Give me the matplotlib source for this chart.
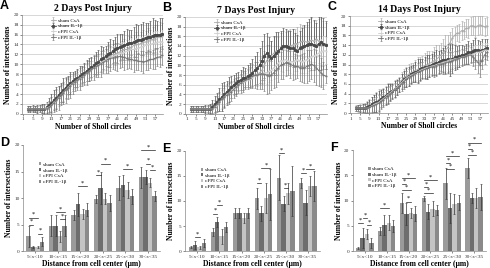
import numpy as np
import matplotlib
matplotlib.use("Agg")
import matplotlib.pyplot as plt

plt.rcParams['font.family'] = ['Liberation Serif', 'DejaVu Serif']

groups = ['sham CsA', 'sham IL-1\u03b2', 'cFPI CsA', 'cFPI IL-1\u03b2']
line_colors = ['#ababab', '#4a4a4a', '#cfcfcf', '#767676']
bar_colors = ['#9a9a9a', '#6e6e6e', '#c4c4c4', '#8a8a8a']

# Sholl circles 3..60
first_circle = 3
xticks_sholl = list(range(1, 58, 4))

# ---- panel A : 2 days ----
a_sham_csa = [1, 1, 1, 1, 1, 1, 1, 1, 1.2, 1.5,
              2, 2.5, 3, 3.5, 4, 4.5, 5, 5.5, 6, 6.3,
              6.7, 7, 7.3, 7.6, 8, 8.4, 8.8, 9, 9.4, 9.8,
              10, 10.4, 10.8, 11, 11.3, 11.6, 12, 12, 12.3, 12.5,
              12.8, 13, 13, 13.3, 13.5, 13.8, 14, 14, 14.2, 14.5,
              14.5, 14.8, 15, 15, 15.2, 15.5, 15.5, 15.8]
a_sham_il = [1, 1, 1, 1, 1, 1, 1, 1, 1.3, 1.8,
             2.2, 2.8, 3.2, 3.8, 4.3, 4.8, 5.3, 5.8, 6.2, 6.6,
             7, 7.3, 7.6, 8, 8.3, 8.7, 9, 9.4, 9.8, 10.2,
             10.5, 11, 11.3, 11.6, 12, 12.3, 12.6, 13, 13.2, 13.5,
             13.6, 13.8, 14, 14.2, 14.4, 14.5, 14.8, 15, 15, 15.2,
             15.4, 15.5, 15.6, 15.8, 16, 16, 16, 16.2]
a_fpi_csa = [1, 1, 1, 1, 1, 1, 1, 1, 1.2, 1.4,
             1.8, 2.3, 2.8, 3.3, 3.8, 4.3, 4.8, 5.3, 5.8, 6.2,
             6.5, 6.9, 7.2, 7.5, 7.8, 8.2, 8.6, 9, 9.2, 9.6,
             9.9, 10.2, 10.6, 10.9, 11.2, 11.4, 11.6, 11.8, 12, 12.2,
             12.3, 12.5, 12.6, 12.8, 13, 13, 13.2, 13.3, 13.5, 13.6,
             13.8, 14, 14, 14.2, 14.3, 14.5, 14.5, 14.6]
a_fpi_il = [1, 1, 1, 1, 1, 1, 1, 1, 1, 1.3,
            1.8, 2.2, 2.8, 3.2, 3.8, 4.2, 4.8, 5.2, 5.7, 6.1,
            6.5, 6.8, 7.1, 7.5, 7.9, 8.3, 8.6, 9, 9.3, 9.6,
            9.8, 10.1, 10.4, 10.7, 11, 11.2, 11.3, 11.5, 11.5, 11.6,
            11.5, 11.4, 11.2, 11, 11, 10.8, 10.8, 10.6, 10.6, 10.5,
            10.6, 10.8, 11, 11, 11.2, 11.4, 11.5, 11.8]
ea_sham_csa = [0.5, 0.5, 0.5, 0.5, 0.5, 0.5, 0.6, 0.8, 1.0, 1.2,
               1.5, 1.5, 1.8, 2.0, 1.6, 1.8, 2.0, 1.5, 1.6, 1.3,
               1.2, 1.5, 1.4, 1.2, 1.5, 1.8, 1.5, 1.6, 1.8, 2.0,
               1.6, 1.8, 2.0, 2.1, 1.6, 1.8, 2.0, 2.2, 2.0, 1.8,
               2.0, 2.2, 2.0, 2.5, 2.1, 2.2, 2.5, 2.0, 2.3, 2.5,
               2.2, 2.5, 2.0, 2.6, 2.8, 2.5, 3.0, 2.6]
ea_sham_il = [0.6, 0.6, 0.7, 0.6, 0.8, 0.7, 0.9, 1.0, 1.2, 1.5,
              1.8, 2.0, 2.2, 1.8, 2.0, 2.4, 2.0, 1.8, 2.2, 1.9,
              1.6, 1.8, 2.0, 1.7, 1.9, 2.1, 2.3, 2.0, 1.8, 2.2,
              2.4, 2.6, 2.2, 2.0, 2.5, 2.8, 2.4, 2.6, 3.0, 2.7,
              2.5, 2.9, 3.2, 2.8, 2.6, 3.0, 3.3, 2.9, 3.1, 3.4,
              3.0, 2.8, 3.2, 3.5, 3.0, 2.8, 3.4, 3.2]
ea_fpi_csa = [0.4, 0.4, 0.5, 0.4, 0.5, 0.6, 0.6, 0.7, 0.9, 1.0,
              1.2, 1.4, 1.6, 1.5, 1.7, 1.6, 1.8, 1.5, 1.4, 1.6,
              1.3, 1.4, 1.6, 1.5, 1.3, 1.6, 1.8, 1.7, 1.5, 1.8,
              1.9, 1.7, 2.0, 1.8, 1.6, 1.9, 2.1, 1.9, 1.7, 2.0,
              2.2, 2.0, 1.8, 2.1, 2.3, 2.0, 2.2, 2.4, 2.1, 1.9,
              2.2, 2.4, 2.0, 2.3, 2.5, 2.2, 2.0, 2.4]
ea_fpi_il = [0.5, 0.5, 0.5, 0.6, 0.6, 0.7, 0.8, 0.9, 1.0, 1.3,
             1.6, 1.8, 2.2, 2.5, 2.0, 2.3, 2.6, 2.2, 2.4, 2.0,
             1.8, 2.0, 2.2, 1.9, 2.1, 2.4, 2.0, 2.2, 2.5, 2.1,
             2.3, 2.6, 2.2, 2.4, 2.8, 2.5, 2.2, 2.6, 2.9, 2.4,
             2.1, 2.5, 2.2, 1.8, 2.0, 2.3, 1.9, 1.7, 2.0, 2.2,
             1.8, 2.0, 1.7, 1.9, 2.1, 1.8, 2.0, 1.9]

# ---- panel B : 7 days ----
b_sham_csa = [1, 1, 1, 1, 1, 1, 1, 1, 1, 1.2,
              1.5, 2, 2.5, 3, 3.5, 4, 4.5, 5, 5.5, 5.8,
              6.2, 6.5, 6.8, 7, 7.3, 7.5, 7.8, 8, 8.2, 8.5,
              9, 10, 11, 11.5, 12, 12.5, 13, 13, 13.5, 13.5,
              13.8, 14, 14, 14.2, 14.5, 14.5, 14.8, 15, 15, 14.8,
              15, 15.2, 15, 15.5, 15, 14.8, 14.5, 14.5]
b_sham_il = [1, 1, 1, 1, 1, 1, 1, 1, 1, 1.5,
             2, 2.5, 3, 3.5, 4, 4.5, 5, 5.5, 6, 6.3,
             6.8, 7, 7.3, 7.5, 7.8, 8, 8.5, 9, 9.5, 10,
             11, 12, 12.5, 12, 11.5, 12, 12.5, 13, 13.5, 14,
             14, 13.8, 13.5, 13.5, 13.2, 13, 13.5, 13.8, 14, 14.2,
             14.5, 14.5, 14.2, 14, 14.5, 14.8, 14.5, 14.2]
b_fpi_csa = [1, 1, 1, 1, 1, 1, 1, 1, 1, 1,
             1.2, 1.8, 2.5, 3, 3.5, 4, 4.3, 4.8, 5.2, 5.6,
             6, 6.3, 6.6, 6.8, 7, 7.2, 7.5, 7.8, 8, 8.2,
             8.3, 8.5, 8.5, 8.8, 9, 9.5, 10, 10.5, 11, 11,
             11.2, 11, 10.8, 10.8, 11, 11.2, 11, 10.8, 11, 11.2,
             11.5, 11.8, 12, 12.2, 12.5, 12.8, 13, 13]
b_fpi_il = [1, 1, 1, 1, 1, 1, 1, 1, 1, 1,
            1.5, 2, 2.5, 3, 3.5, 3.8, 4.2, 4.6, 5, 5.5,
            6, 6.3, 6.7, 7, 7.2, 7.5, 7.8, 8, 8, 8.2,
            8.3, 8.2, 8, 7.8, 8, 8.5, 9, 9.5, 10, 10.2,
            10.5, 10.5, 10.2, 10, 9.8, 9.8, 9.5, 9.5, 9.5, 9.8,
            10, 10.2, 10, 9.5, 9, 8.5, 8, 7.8]
eb_sham_csa = [0.6, 0.6, 0.6, 0.6, 0.6, 0.6, 0.6, 0.7, 0.8, 1.0,
               1.2, 1.5, 1.8, 2.0, 1.8, 2.2, 2.0, 1.8, 1.6, 1.5,
               1.4, 1.6, 1.8, 1.5, 1.7, 1.9, 2.2, 2.0, 2.4, 2.6,
               2.8, 3.0, 3.2, 2.8, 3.0, 3.4, 3.0, 2.8, 3.2, 3.5,
               3.0, 3.3, 3.6, 3.2, 3.0, 3.5, 3.8, 3.4, 3.2, 3.6,
               4.0, 4.5, 4.2, 3.8, 4.5, 5.0, 4.6, 4.2]
eb_sham_il = [0.7, 0.7, 0.7, 0.7, 0.7, 0.7, 0.8, 0.9, 1.0, 1.3,
              1.6, 1.9, 2.3, 2.8, 2.5, 2.2, 2.6, 2.3, 2.0, 2.2,
              1.9, 2.1, 2.4, 2.0, 2.2, 2.5, 2.8, 3.0, 3.3, 3.6,
              4.0, 4.5, 4.2, 3.8, 3.5, 4.0, 4.4, 3.8, 3.5, 3.8,
              3.4, 3.2, 3.6, 3.9, 3.5, 3.2, 3.6, 4.0, 4.4, 4.8,
              5.0, 5.5, 5.2, 4.8, 5.4, 5.8, 5.2, 5.0]
eb_fpi_csa = [0.5, 0.5, 0.5, 0.5, 0.5, 0.5, 0.5, 0.6, 0.7, 0.9,
              1.1, 1.3, 1.5, 1.7, 1.6, 1.8, 1.6, 1.5, 1.4, 1.3,
              1.2, 1.4, 1.6, 1.4, 1.5, 1.7, 1.9, 1.8, 2.0, 2.2,
              2.0, 2.2, 2.4, 2.2, 2.0, 2.3, 2.5, 2.3, 2.1, 2.4,
              2.2, 2.0, 2.3, 2.5, 2.2, 2.4, 2.6, 2.3, 2.5, 2.8,
              2.6, 2.4, 2.7, 3.0, 2.8, 2.6, 3.0, 2.8]
eb_fpi_il = [0.6, 0.6, 0.6, 0.6, 0.6, 0.6, 0.6, 0.7, 0.8, 1.0,
             1.3, 1.6, 2.0, 2.4, 2.2, 1.9, 2.2, 2.0, 1.8, 1.9,
             1.7, 1.9, 2.1, 1.8, 2.0, 2.2, 2.4, 2.6, 2.8, 3.0,
             3.2, 3.5, 3.8, 3.4, 3.0, 3.2, 3.5, 3.0, 2.8, 3.0,
             2.7, 2.5, 2.8, 3.0, 2.6, 2.4, 2.7, 2.9, 3.1, 3.4,
             3.2, 3.0, 3.4, 3.6, 3.2, 3.0, 2.8, 1.5]

# ---- panel C : 14 days ----
c_sham_csa = [1, 1, 1, 1, 1, 1.3, 1.5, 1.8, 2, 2.3,
              2.8, 3, 3.3, 3.6, 4, 4.3, 4.6, 5, 5.5, 6,
              6.8, 7.3, 7.6, 8, 8.3, 8.5, 8.8, 9, 9.2, 9.5,
              9.8, 10, 10.2, 10.5, 10.8, 11, 11.5, 12, 12.5, 13,
              13.5, 14.5, 15.5, 16, 16.5, 16.5, 17, 17, 17.5, 17.5,
              18, 18, 17.8, 18, 18.2, 18, 17.8, 18]
c_sham_il = [1, 1, 1, 1, 1, 1.2, 1.5, 1.8, 2, 2.2,
             2.5, 3, 3.3, 3.6, 4, 4.3, 4.6, 5, 5.3, 5.8,
             6.5, 7, 7.3, 7.6, 8, 8.2, 8.5, 8.7, 9, 9.2,
             9.4, 9.5, 9.7, 10, 10.2, 10.4, 10.5, 10.8, 11, 11,
             11.2, 11, 11.2, 11.5, 11.5, 11.8, 12, 12, 12.2, 12.5,
             12.5, 12.8, 13, 13, 12.8, 13, 13.2, 13.5]
c_fpi_csa = [1, 1, 1, 1, 1, 1, 1.2, 1.5, 1.8, 2,
             2.2, 2.6, 3, 3.4, 3.8, 4.2, 4.6, 5, 5.4, 5.8,
             6.3, 6.8, 7.2, 7.5, 7.8, 8, 8.3, 8.5, 8.8, 9,
             9.2, 9.4, 9.5, 9.7, 9.8, 10, 10.2, 10.3, 10.5, 10.6,
             10.8, 11, 11, 11.2, 11.2, 11.4, 11.5, 11.6, 11.8, 12,
             12, 12.2, 12.3, 12.5, 12.6, 12.8, 13, 13]
c_fpi_il = [1, 1, 1, 1, 1, 1, 1.2, 1.4, 1.6, 1.8,
            2, 2.4, 2.8, 3.2, 3.6, 4, 4.4, 4.8, 5.2, 5.6,
            6, 6.5, 7, 7.3, 7.6, 7.9, 8.2, 8.4, 8.6, 8.8,
            9, 9.2, 9.4, 9.5, 9.6, 9.8, 10, 10.1, 10.2, 10.4,
            10.5, 10.6, 10.8, 11, 11.2, 11.3, 11.5, 11.5, 11.8, 12,
            12, 11.5, 11, 10.5, 10, 11, 12, 12.5]
ec_sham_csa = [0.6, 0.7, 0.8, 0.9, 1.0, 1.2, 1.4, 1.6, 1.8, 2.0,
               2.2, 2.0, 1.8, 2.0, 2.2, 1.9, 1.7, 1.8, 1.6, 1.5,
               1.6, 1.8, 2.0, 2.2, 2.0, 1.8, 2.2, 2.6, 2.4, 2.2,
               2.5, 2.8, 2.6, 2.4, 2.8, 3.0, 2.6, 2.4, 2.8, 3.0,
               2.5, 2.2, 2.0, 1.8, 1.6, 1.8, 2.0, 1.7, 1.9, 2.0,
               1.8, 2.0, 2.2, 2.0, 1.8, 2.0, 1.9, 1.8]
ec_sham_il = [0.5, 0.6, 0.7, 0.8, 0.9, 1.1, 1.3, 1.5, 1.7, 1.9,
              2.0, 1.8, 1.6, 1.8, 2.0, 1.7, 1.5, 1.6, 1.5, 1.4,
              1.5, 1.7, 1.9, 2.0, 1.8, 1.7, 2.0, 2.4, 2.2, 2.0,
              2.2, 2.5, 2.3, 2.1, 2.4, 2.6, 2.3, 2.2, 2.5, 2.8,
              3.0, 3.4, 3.0, 2.6, 2.4, 2.2, 2.0, 1.9, 2.1, 2.3,
              2.0, 2.2, 2.4, 2.1, 2.0, 2.3, 2.0, 1.8]
ec_fpi_csa = [0.5, 0.5, 0.6, 0.6, 0.7, 0.8, 1.0, 1.2, 1.3, 1.4,
              1.5, 1.4, 1.3, 1.4, 1.5, 1.3, 1.2, 1.3, 1.2, 1.1,
              1.2, 1.3, 1.4, 1.5, 1.4, 1.3, 1.5, 1.7, 1.6, 1.5,
              1.6, 1.8, 1.7, 1.6, 1.8, 1.9, 1.7, 1.6, 1.8, 2.0,
              1.8, 1.7, 1.6, 1.5, 1.4, 1.5, 1.6, 1.4, 1.5, 1.6,
              1.5, 1.6, 1.7, 1.6, 1.5, 1.6, 1.5, 1.4]
ec_fpi_il = [0.5, 0.6, 0.6, 0.7, 0.8, 0.9, 1.1, 1.3, 1.4, 1.6,
             1.7, 1.6, 1.5, 1.6, 1.7, 1.5, 1.4, 1.5, 1.4, 1.3,
             1.4, 1.5, 1.6, 1.7, 1.6, 1.5, 1.8, 2.0, 1.9, 1.8,
             1.9, 2.1, 2.0, 1.9, 2.1, 2.2, 2.0, 1.9, 2.1, 2.3,
             2.0, 1.9, 1.8, 1.7, 1.6, 1.7, 1.8, 1.6, 1.7, 1.8,
             1.7, 1.8, 2.0, 2.2, 2.5, 2.0, 1.8, 1.6]

# ---- bar panels D, E, F ----
dist_labels = ['5<x<10', '10<x<15', '15<x<20', '20<x<25', '25<x<30', '30<x<35']

d_means = [[2.8, 4.8, 6.8, 9.8, 11.9, 13.9],    # sham CsA
           [0.8, 4.8, 8.8, 11.9, 12.4, 13.9],   # sham IL-1b
           [0.8, 2.8, 7.0, 9.9, 11.6, 12.9],    # cFPI CsA
           [1.8, 4.8, 7.8, 9.0, 10.3, 10.4]]    # cFPI IL-1b
d_err = [[2.0, 2.0, 1.0, 0.8, 2.3, 2.0],
         [0.2, 2.0, 2.2, 3.0, 2.0, 1.3],
         [0.2, 1.0, 1.0, 1.0, 1.5, 0.8],
         [0.8, 2.0, 1.2, 1.5, 1.5, 1.0]]
d_sig = [(0, 0, 2, 6.3), (0, 0, 1, 5.0), (0, 2, 3, 3.3), (1, 1, 3, 7.3), (1, 2, 3, 6.0),
         (2, 1, 3, 12.2), (3, 1, 3, 16.5), (3, 0, 1, 14.3), (4, 1, 3, 15.5),
         (5, 0, 3, 19.0), (5, 1, 2, 16.5), (5, 2, 3, 15.2)]

e_means = [[0.8, 3.8, 7.6, 10.5, 14.6, 13.6],
           [1.3, 5.8, 7.6, 7.6, 9.5, 9.7],
           [0.8, 3.0, 6.6, 10.6, 11.5, 13.0],
           [1.6, 4.8, 7.6, 11.3, 12.0, 13.0]]
e_err = [[0.2, 0.8, 1.0, 2.0, 4.5, 1.0],
         [0.8, 1.0, 1.0, 1.5, 1.5, 2.5],
         [0.3, 1.5, 1.0, 3.0, 2.0, 2.0],
         [0.8, 1.0, 1.0, 5.0, 5.0, 3.0]]
e_sig = [(0, 1, 2, 2.8), (1, 0, 1, 7.5), (1, 1, 2, 9.2), (3, 0, 1, 13.5), (3, 1, 3, 16.5),
         (4, 0, 1, 19.5), (4, 1, 2, 12.5), (5, 0, 1, 15.5), (5, 1, 3, 16.3)]

f_means = [[0.7, 3.9, 9.5, 10.5, 13.4, 16.5],
           [2.6, 5.2, 7.4, 7.8, 8.6, 10.5],
           [3.4, 5.6, 7.6, 8.4, 9.4, 10.5],
           [1.6, 4.9, 7.4, 8.2, 9.6, 10.7]]
f_err = [[0.2, 0.8, 2.0, 0.5, 3.0, 2.0],
         [2.0, 2.0, 2.2, 1.5, 3.0, 1.0],
         [1.0, 1.5, 1.0, 1.5, 2.0, 2.0],
         [1.0, 1.2, 1.5, 1.0, 1.5, 2.5]]
f_sig = [(0, 0, 1, 5.6), (0, 1, 2, 6.6), (0, 2, 3, 5.2), (1, 0, 2, 8.5),
         (2, 0, 3, 14.5), (2, 0, 1, 13.3), (2, 0, 2, 12.0), (2, 1, 2, 9.8),
         (3, 0, 3, 14.0), (3, 0, 1, 12.7), (3, 0, 2, 11.5),
         (4, 0, 3, 18.8), (4, 0, 1, 17.5), (4, 0, 2, 16.3),
         (5, 0, 3, 21.5), (5, 0, 1, 20.2), (5, 0, 2, 19.0)]

fig = plt.figure(figsize=(4.9, 2.68), dpi=100)
fs_tick = 3.8
fs_lab = 5.5


def sholl_panel(rect, series, errors, title, letter):
    ax = fig.add_axes(rect)
    for k in range(4):
        y = np.array(series[k])
        x = np.arange(first_circle, first_circle + len(y))
        ax.errorbar(x, y, yerr=errors[k], color=line_colors[k], lw=0.6, elinewidth=0.5,
                    capsize=0.8, capthick=0.4, marker='s' if k == 1 else '_', ms=1.2,
                    label=groups[k])
    ax.set_xlim(0.5, 60.5)
    ax.set_ylim(0, 20)
    ax.set_yticks(range(0, 21, 2))
    ax.set_xticks(xticks_sholl)
    ax.yaxis.grid(True, color='#c8c8c8', lw=0.5)
    ax.set_axisbelow(True)
    for s in ['top', 'right']:
        ax.spines[s].set_visible(False)
    for s in ['left', 'bottom']:
        ax.spines[s].set_color('#888888')
        ax.spines[s].set_linewidth(0.5)
    ax.tick_params(labelsize=fs_tick, length=1.5, width=0.4, pad=1, colors='#333333')
    ax.set_xlabel('Number of Sholl circles', fontsize=fs_lab, fontweight='bold', labelpad=1)
    ax.set_ylabel('Number of intersections', fontsize=fs_lab, fontweight='bold', labelpad=1)
    ax.set_title(title, fontsize=7, fontweight='bold', pad=3)
    leg = ax.legend(loc='upper left', bbox_to_anchor=(0.18, 1.0), fontsize=3.8, frameon=False,
                    handlelength=1.0, handletextpad=0.4, labelspacing=0.2, borderaxespad=0.2)
    ax.text(-0.16, 1.09, letter, transform=ax.transAxes, fontsize=9, fontweight='bold',
            family=['Liberation Sans', 'DejaVu Sans'], va='center')
    return ax


def bar_panel(rect, means, errs, sigs, letter):
    ax = fig.add_axes(rect)
    n = len(dist_labels)
    w = 0.2
    pos = np.arange(n)
    for k in range(4):
        xs = pos + (k - 1.5) * w
        ax.bar(xs, means[k], w, yerr=errs[k], color=bar_colors[k], label=groups[k],
               error_kw=dict(elinewidth=0.5, capsize=0.8, capthick=0.4, ecolor='#333333'))
    for g, i, j, y in sigs:
        x0 = g + (i - 1.5) * w
        x1 = g + (j - 1.5) * w
        ax.plot([x0, x1], [y, y], color='#222222', lw=0.5, clip_on=False)
        ax.text((x0 + x1) / 2, y + 0.1, '*', fontsize=4.5, ha='center', va='bottom')
    ax.set_xlim(-0.55, n - 0.45)
    ax.set_ylim(0, 20)
    ax.set_yticks([0, 5, 10, 15, 20])
    ax.set_xticks(pos)
    ax.set_xticklabels(dist_labels)
    for s in ['top', 'right']:
        ax.spines[s].set_visible(False)
    for s in ['left', 'bottom']:
        ax.spines[s].set_color('#888888')
        ax.spines[s].set_linewidth(0.5)
    ax.tick_params(labelsize=fs_tick, length=1.5, width=0.4, pad=1, colors='#333333')
    ax.set_xlabel('Distance from cell center (\u03bcm)', fontsize=fs_lab, fontweight='bold',
                  labelpad=1)
    ax.set_ylabel('Number of intersections', fontsize=fs_lab, fontweight='bold', labelpad=1)
    ax.legend(loc='upper left', bbox_to_anchor=(0.08, 0.88), fontsize=3.8, frameon=False,
              handlelength=0.5, handleheight=0.5, handletextpad=0.3, labelspacing=0.25)
    ax.text(-0.17, 1.02, letter, transform=ax.transAxes, fontsize=9, fontweight='bold',
            family=['Liberation Sans', 'DejaVu Sans'], va='center')
    return ax


sholl_panel([0.045, 0.575, 0.288, 0.37], [a_sham_csa, a_sham_il, a_fpi_csa, a_fpi_il],
            [ea_sham_csa, ea_sham_il, ea_fpi_csa, ea_fpi_il], '2 Days Post Injury', 'A')
sholl_panel([0.378, 0.575, 0.289, 0.362], [b_sham_csa, b_sham_il, b_fpi_csa, b_fpi_il],
            [eb_sham_csa, eb_sham_il, eb_fpi_csa, eb_fpi_il], '7 Days Post Injury', 'B')
sholl_panel([0.714, 0.578, 0.282, 0.362], [c_sham_csa, c_sham_il, c_fpi_csa, c_fpi_il],
            [ec_sham_csa, ec_sham_il, ec_fpi_csa, ec_fpi_il], '14 Days Post Injury', 'C')

bar_panel([0.047, 0.063, 0.28, 0.396], d_means, d_err, d_sig, 'D')
bar_panel([0.378, 0.063, 0.275, 0.374], e_means, e_err, e_sig, 'E')
bar_panel([0.72, 0.063, 0.272, 0.377], f_means, f_err, f_sig, 'F')

fig.savefig('out.png', dpi=100)
